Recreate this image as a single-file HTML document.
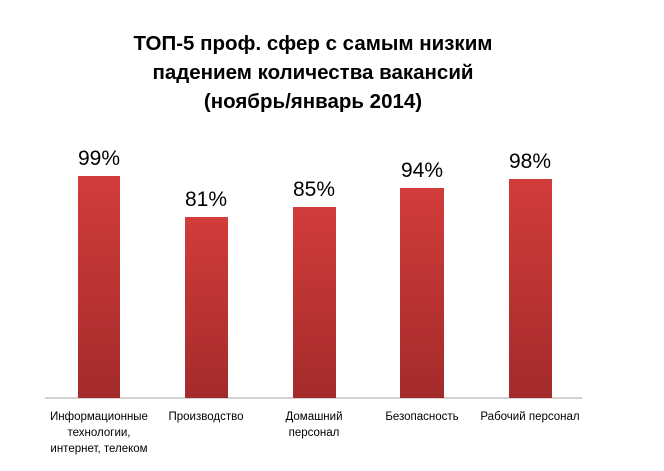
<!DOCTYPE html>
<html><head><meta charset="utf-8"><style>
body{margin:0;background:#fff;}
svg{display:block;}
</style></head><body>
<svg width="664" height="471" xmlns="http://www.w3.org/2000/svg" font-family="'Liberation Sans', 'DejaVu Sans', sans-serif">
<defs><linearGradient id="g" x1="0" y1="0" x2="0" y2="1">
<stop offset="0" stop-color="#d23c3a"/><stop offset="1" stop-color="#a32b2a"/></linearGradient></defs>
<g font-weight="bold" font-size="20.5" text-anchor="middle" fill="#000">
<text x="313" y="50">ТОП-5 проф. сфер с самым низким</text>
<text x="313" y="79">падением количества вакансий</text>
<text x="313" y="108">(ноябрь/январь 2014)</text>
</g>
<line x1="45" y1="398" x2="582" y2="398" stroke="#a6a6a6" stroke-width="1"/>
<rect x="78" y="176" width="42" height="222" fill="url(#g)"/>
<rect x="185" y="217" width="43" height="181" fill="url(#g)"/>
<rect x="293" y="207" width="43" height="191" fill="url(#g)"/>
<rect x="400" y="188" width="44" height="210" fill="url(#g)"/>
<rect x="509" y="179" width="43" height="219" fill="url(#g)"/>
<g font-size="21" text-anchor="middle" fill="#000">
<text x="99" y="165">99%</text>
<text x="206" y="206">81%</text>
<text x="314" y="196">85%</text>
<text x="422" y="177">94%</text>
<text x="530" y="168">98%</text>
</g>
<g font-size="11.5" text-anchor="middle" fill="#000">
<text x="99" y="420">Информационные</text>
<text x="99" y="436">технологии,</text>
<text x="99" y="452">интернет, телеком</text>
<text x="206" y="420">Производство</text>
<text x="314" y="420">Домашний</text>
<text x="314" y="436">персонал</text>
<text x="422" y="420">Безопасность</text>
<text x="530" y="420">Рабочий персонал</text>
</g>
</svg>
</body></html>
